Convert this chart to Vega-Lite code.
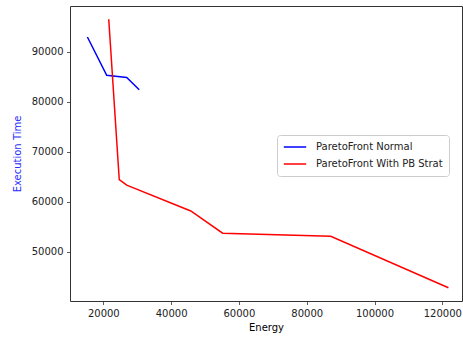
{
  "$schema": "https://vega.github.io/schema/vega-lite/v6.json",
  "width": 392,
  "height": 295,
  "autosize": {"type": "none"},
  "padding": {"left": 70, "top": 6, "right": 1, "bottom": 39},
  "background": "white",
  "config": {
    "font": "DejaVu Sans",
    "view": {"stroke": "#333333", "strokeWidth": 1},
    "axis": {
      "grid": false,
      "domain": false,
      "tickColor": "#333333",
      "tickSize": 3.5,
      "tickWidth": 0.8,
      "labelFontSize": 10,
      "labelColor": "#222222",
      "labelPadding": 3.5,
      "titleFontSize": 10,
      "titleFontWeight": "normal",
      "titleColor": "#000000"
    }
  },
  "data": {
    "values": [
      {"series": "ParetoFront Normal", "energy": 15300, "time": 92900},
      {"series": "ParetoFront Normal", "energy": 21000, "time": 85250},
      {"series": "ParetoFront Normal", "energy": 26900, "time": 84800},
      {"series": "ParetoFront Normal", "energy": 30600, "time": 82350},
      {"series": "ParetoFront With PB Strat", "energy": 21600, "time": 96450},
      {"series": "ParetoFront With PB Strat", "energy": 24700, "time": 64400},
      {"series": "ParetoFront With PB Strat", "energy": 26900, "time": 63300},
      {"series": "ParetoFront With PB Strat", "energy": 45800, "time": 58150},
      {"series": "ParetoFront With PB Strat", "energy": 55200, "time": 53700},
      {"series": "ParetoFront With PB Strat", "energy": 87100, "time": 53100},
      {"series": "ParetoFront With PB Strat", "energy": 121800, "time": 42800}
    ]
  },
  "mark": {"type": "line", "strokeWidth": 1.5, "clip": true},
  "encoding": {
    "x": {
      "field": "energy",
      "type": "quantitative",
      "title": "Energy",
      "scale": {"domain": [10170, 125810], "nice": false, "zero": false},
      "axis": {"values": [20000, 40000, 60000, 80000, 100000, 120000], "format": "d", "titlePadding": 4}
    },
    "y": {
      "field": "time",
      "type": "quantitative",
      "title": "Execution Time",
      "scale": {"domain": [40160, 99100], "nice": false, "zero": false},
      "axis": {"values": [50000, 60000, 70000, 80000, 90000], "format": "d", "titleColor": "#2a2aff", "titlePadding": 9}
    },
    "color": {
      "field": "series",
      "type": "nominal",
      "scale": {"domain": ["ParetoFront Normal", "ParetoFront With PB Strat"], "range": ["#0000ff", "#ff0000"]},
      "legend": {
        "title": null,
        "orient": "none",
        "legendX": 207,
        "legendY": 129,
        "symbolType": "stroke",
        "symbolSize": 500,
        "symbolStrokeWidth": 1.5,
        "clipHeight": 12,
        "labelFontSize": 10,
        "labelColor": "#222222",
        "labelOffset": 9,
        "rowPadding": 5,
        "padding": 6,
        "fillColor": "white",
        "strokeColor": "#cccccc",
        "cornerRadius": 3
      }
    }
  }
}
